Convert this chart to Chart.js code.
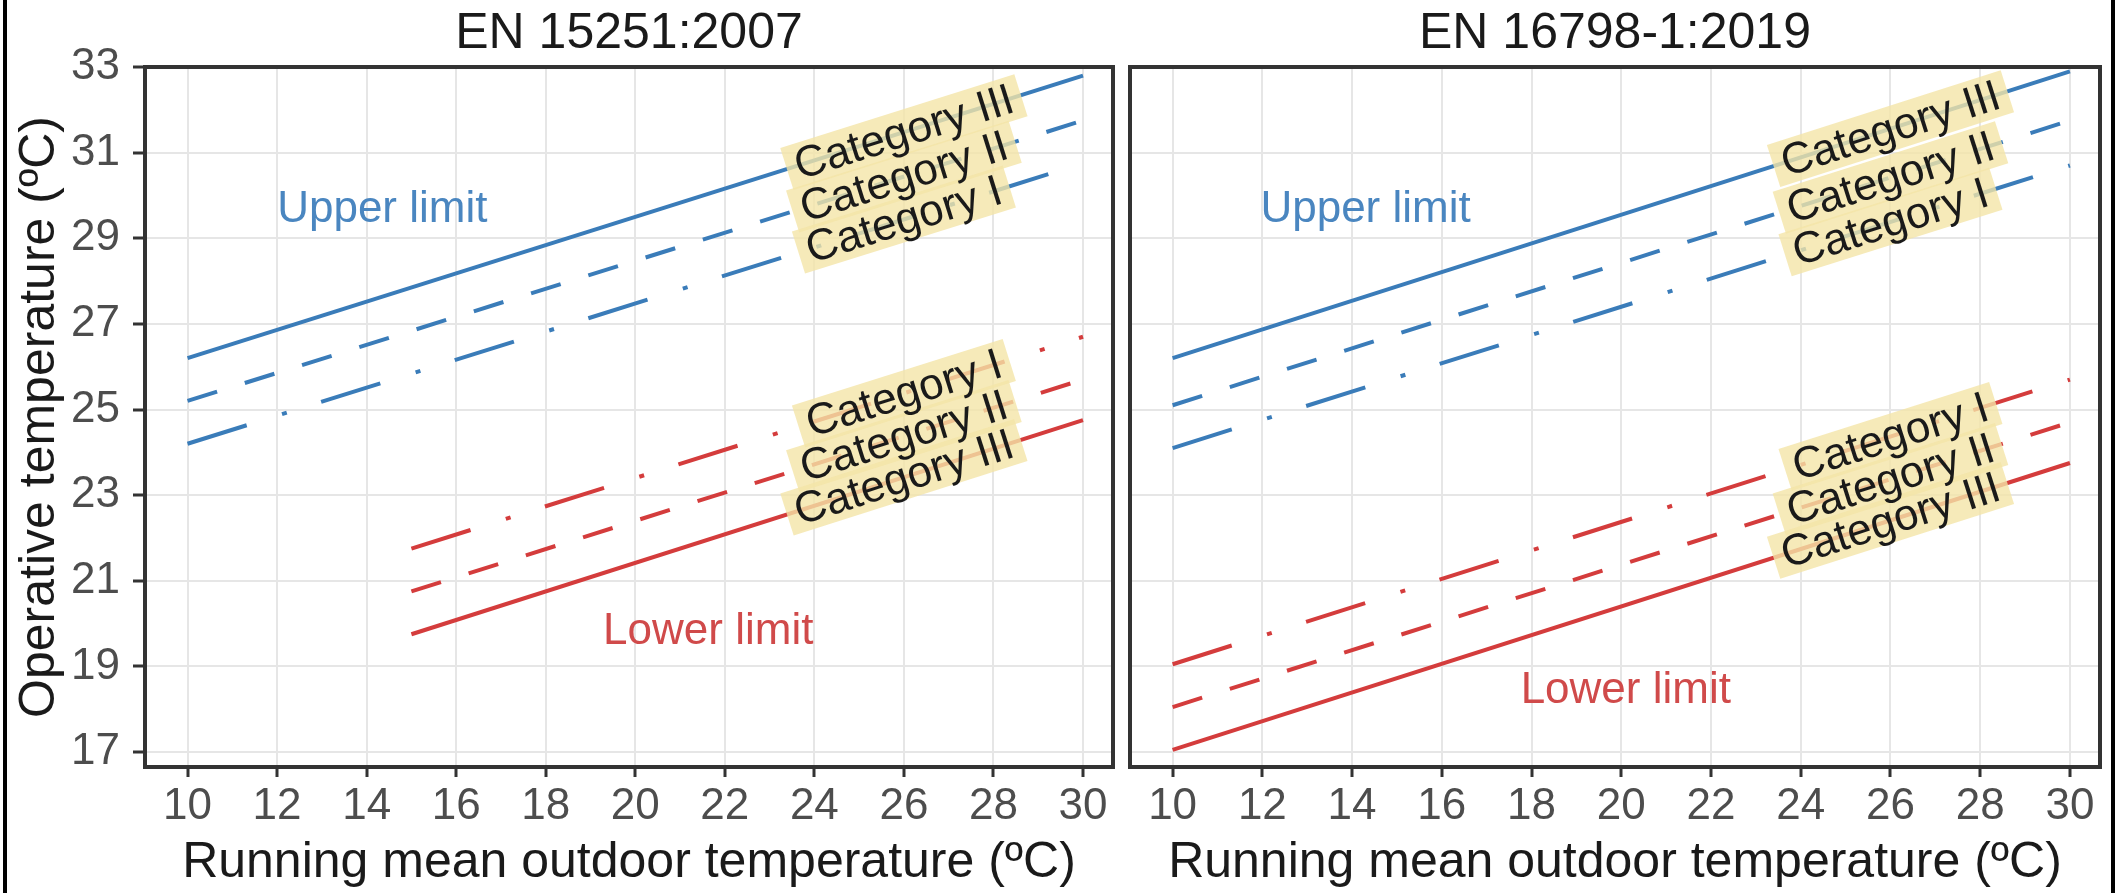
<!DOCTYPE html>
<html>
<head>
<meta charset="utf-8">
<script src="https://cdn.jsdelivr.net/npm/chart.js@4.4.1/dist/chart.umd.min.js"></script>
<style>
    html, body { margin: 0; padding: 0; background: #fff; }
    #wrap { position: relative; width: 2116px; height: 893px; overflow: hidden; }
    canvas { position: absolute; top: 0; }
    #leftChart { left: 0; }
    #rightChart { left: 1122px; }
    .edge { position: absolute; top: 0; width: 4px; height: 893px; background: #000; }
</style>
</head>
<body>
<div id="wrap">
    <canvas id="leftChart" width="1122" height="893"></canvas>
    <canvas id="rightChart" width="994" height="893"></canvas>
    <div class="edge" style="left:3px"></div>
    <div class="edge" style="left:2111px"></div>
</div>
<script>
const xTicks = [10, 12, 14, 16, 18, 20, 22, 24, 26, 28, 30]
const yTicks = [17, 19, 21, 23, 25, 27, 29, 31, 33]
const categories = ['Category I', 'Category II', 'Category III']

// EN 15251:2007 -> line ends [start, end]
const en15251UpperX = [10, 30]
const en15251LowerX = [15, 30]
const en15251UpperI = [24.2, 30.75]
const en15251UpperII = [25.2, 31.75]
const en15251UpperIII = [26.2, 32.8]
const en15251LowerI = [21.75, 26.7]
const en15251LowerII = [20.75, 25.7]
const en15251LowerIII = [19.75, 24.75]

// EN 16798-1:2019
const en16798UpperX = [10, 30]
const en16798LowerX = [10, 30]
const en16798UpperI = [24.1, 30.7]
const en16798UpperII = [25.1, 31.75]
const en16798UpperIII = [26.2, 32.9]
const en16798LowerI = [19.05, 25.7]
const en16798LowerII = [18.05, 24.7]
const en16798LowerIII = [17.05, 23.75]

const BLUE = '#3a7cb9'
const RED = '#d43c3c'
const FONT = '"Liberation Sans", Arial, sans-serif'
// line type per category: I dash-dot, II dashed, III solid
const dashes = [[62, 37, 5, 36], [31, 29], []]
const labelAt = 26

function series(xs, ys, color, cat, limit) {
    return {
        label: categories[cat],
        limit: limit,
        data: xs.map((x, i) => ({x: x, y: ys[i]})),
        borderColor: color,
        borderWidth: 4,
        borderDash: dashes[cat],
        borderCapStyle: 'butt',
        pointRadius: 0,
        showLine: true,
        fill: false
    }
}

// yellow category boxes along the lines
const lineLabels = {
    id: 'lineLabels',
    afterDatasetsDraw(chart) {
        const ctx = chart.ctx
        const xs = chart.scales.x
        const items = []
        chart.data.datasets.forEach((ds, i) => {
            const pts = chart.getDatasetMeta(i).data
            const p0 = pts[0], p1 = pts[pts.length - 1]
            const px = xs.getPixelForValue(labelAt)
            const t = (px - p0.x) / (p1.x - p0.x)
            items.push({
                x: px,
                y: p0.y + t * (p1.y - p0.y),
                a: Math.atan2(p1.y - p0.y, p1.x - p0.x),
                text: ds.label
            })
        })
        ctx.save()
        ctx.font = '44px ' + FONT
        items.forEach(it => {
            const w = ctx.measureText(it.text).width + 18
            ctx.save()
            ctx.translate(it.x, it.y)
            ctx.rotate(it.a)
            ctx.fillStyle = 'rgba(244, 229, 168, 0.8)'
            ctx.fillRect(-w / 2, -22, w, 44)
            ctx.restore()
        })
        items.forEach(it => {
            ctx.save()
            ctx.translate(it.x, it.y)
            ctx.rotate(it.a)
            ctx.fillStyle = '#1a1a1a'
            ctx.textAlign = 'center'
            ctx.textBaseline = 'middle'
            ctx.fillText(it.text, 0, 2)
            ctx.restore()
        })
        ctx.restore()
    }
}

const panelDecor = {
    id: 'panelDecor',
    afterDraw(chart, args, opts) {
        const ctx = chart.ctx
        const a = chart.chartArea
        ctx.save()
        ctx.strokeStyle = '#333333'
        ctx.lineWidth = 4
        ctx.strokeRect(a.left, a.top, a.right - a.left, a.bottom - a.top)
        ctx.fillStyle = '#1a1a1a'
        ctx.font = '50px ' + FONT
        ctx.textAlign = 'center'
        ctx.textBaseline = 'middle'
        ctx.fillText(opts.title, (a.left + a.right) / 2, 34)
        ctx.font = '44px ' + FONT
        opts.notes.forEach(n => {
            ctx.fillStyle = n.color
            ctx.fillText(n.text, chart.scales.x.getPixelForValue(n.x), chart.scales.y.getPixelForValue(n.y))
        })
        ctx.restore()
    }
}

function makeChart(id, title, datasets, notes, withY, padRight) {
    return new Chart(document.getElementById(id), {
        type: 'scatter',
        data: {datasets: datasets},
        options: {
            responsive: false,
            animation: false,
            layout: {padding: {left: 0, right: padRight, top: 67, bottom: 0}},
            plugins: {
                legend: {display: false},
                tooltip: {enabled: false},
                panelDecor: {title: title, notes: notes}
            },
            scales: {
                x: {
                    type: 'linear',
                    min: 9.05,
                    max: 30.67,
                    afterBuildTicks: s => { s.ticks = xTicks.map(v => ({value: v})) },
                    afterFit: s => { s.height = 126 },
                    border: {display: false},
                    grid: {color: '#e6e6e6', lineWidth: 2, drawTicks: true, tickLength: 10, tickColor: '#333333', tickWidth: 3},
                    ticks: {font: {family: FONT, size: 44}, color: '#4d4d4d', padding: 3, maxRotation: 0, autoSkip: false},
                    title: {display: true, text: 'Running mean outdoor temperature (ºC)', font: {family: FONT, size: 50}, color: '#1a1a1a', padding: {top: 0, bottom: 0}}
                },
                y: {
                    type: 'linear',
                    min: 16.65,
                    max: 33,
                    afterBuildTicks: s => { s.ticks = yTicks.map(v => ({value: v})) },
                    afterFit: s => { s.width = withY ? 145 : 8 },
                    border: {display: false},
                    grid: {color: '#e6e6e6', lineWidth: 2, drawTicks: withY, tickLength: 12, tickColor: '#333333', tickWidth: 3},
                    ticks: {display: withY, font: {family: FONT, size: 44}, color: '#4d4d4d', padding: 13},
                    title: {display: withY, text: 'Operative temperature (ºC)', font: {family: FONT, size: 50}, color: '#1a1a1a', padding: {top: 10, bottom: 0}}
                }
            }
        },
        plugins: [lineLabels, panelDecor]
    })
}

makeChart('leftChart', 'EN 15251:2007', [
    series(en15251UpperX, en15251UpperIII, BLUE, 2, 'upper'),
    series(en15251UpperX, en15251UpperII, BLUE, 1, 'upper'),
    series(en15251UpperX, en15251UpperI, BLUE, 0, 'upper'),
    series(en15251LowerX, en15251LowerI, RED, 0, 'lower'),
    series(en15251LowerX, en15251LowerII, RED, 1, 'lower'),
    series(en15251LowerX, en15251LowerIII, RED, 2, 'lower')
], [
    {text: 'Upper limit', x: 14.35, y: 29.66, color: '#4a86c0'},
    {text: 'Lower limit', x: 21.63, y: 19.8, color: '#d04a4a'}
], true, 9)

makeChart('rightChart', 'EN 16798-1:2019', [
    series(en16798UpperX, en16798UpperIII, BLUE, 2, 'upper'),
    series(en16798UpperX, en16798UpperII, BLUE, 1, 'upper'),
    series(en16798UpperX, en16798UpperI, BLUE, 0, 'upper'),
    series(en16798LowerX, en16798LowerI, RED, 0, 'lower'),
    series(en16798LowerX, en16798LowerII, RED, 1, 'lower'),
    series(en16798LowerX, en16798LowerIII, RED, 2, 'lower')
], [
    {text: 'Upper limit', x: 14.3, y: 29.66, color: '#4a86c0'},
    {text: 'Lower limit', x: 20.1, y: 18.42, color: '#d04a4a'}
], false, 16)
</script>
</body>
</html>
